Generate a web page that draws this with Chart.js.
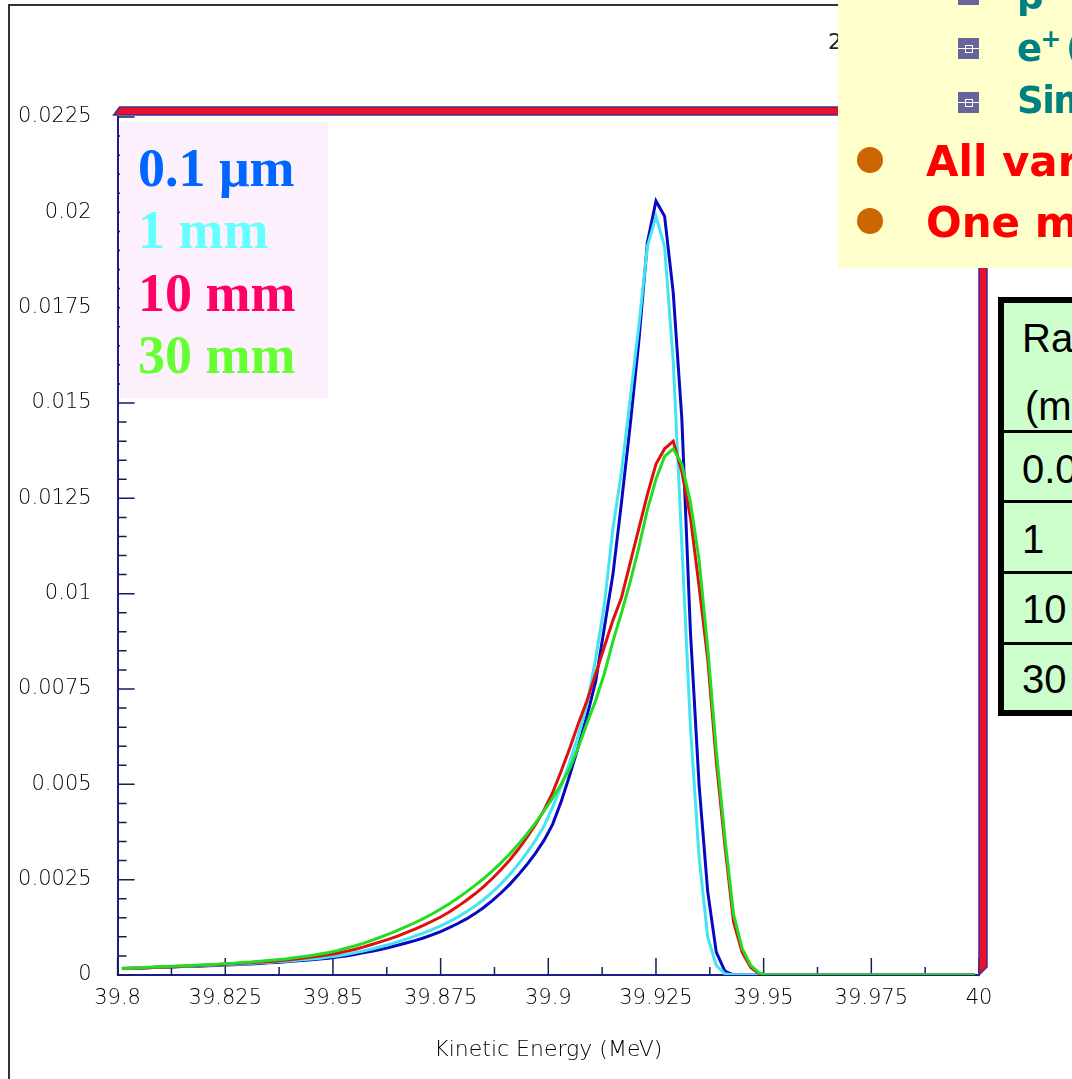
<!DOCTYPE html>
<html>
<head>
<meta charset="utf-8">
<title>Kinetic energy spectra</title>
<script src="https://cdn.jsdelivr.net/npm/chart.js@4.4.1/dist/chart.umd.min.js"></script>
<style>
    html, body { margin: 0; padding: 0; background: #fff; overflow: hidden; }
    #page { position: relative; width: 1072px; height: 1079px; overflow: hidden; }
    #spectrum { position: absolute; left: 0; top: 0; }
    .edge { position: absolute; background: #333; }
    #plotTitle { position: absolute; left: 828px; top: 31px; font: 22px 'DejaVu Sans', sans-serif; line-height: 1; color: #222; white-space: nowrap; }
    #sizeKey { position: absolute; left: 120px; top: 122px; width: 208px; height: 276px; background: #fdf0fd; }
    #sizeKey div { position: absolute; left: 18px; font: bold 54px 'Liberation Serif', serif; line-height: 62.6px; white-space: nowrap; }
    #slideNote { position: absolute; left: 838px; top: 0; width: 240px; height: 268px; background: #ffffcc; }
    #slideNote .t { position: absolute; white-space: nowrap; font-family: 'DejaVu Sans', sans-serif; font-weight: bold; line-height: 1; }
    #slideNote .teal { color: #008080; font-size: 37px; left: 179px; letter-spacing: -1.5px; }
    #slideNote .red { color: #ff0000; font-size: 42px; left: 88px; }
    .sq { position: absolute; left: 120px; width: 21px; height: 21px; background: #66669a; }
    .sq::before { content: ''; position: absolute; left: 0; top: 10px; width: 21px; height: 1px; background: #fff; }
    .sq::after { content: ''; position: absolute; left: 7px; top: 7px; width: 6px; height: 6px; border: 1px solid #fff; }
    .dot { position: absolute; left: 19px; width: 26px; height: 26px; border-radius: 50%; background: #cc6600; }
    #rangeTable { position: absolute; left: 998px; top: 297px; width: 200px; height: 407px; border: 6px solid #000; background: #ccffcc; }
    #rangeTable .row { position: absolute; left: 0; width: 200px; height: 3px; background: #000; }
    #rangeTable .cell { position: absolute; left: 18px; font: 40px 'Liberation Sans', sans-serif; line-height: 1; color: #000; white-space: nowrap; }
</style>
</head>
<body>
<div id="page">
    <canvas id="spectrum" width="1072" height="1079"></canvas>

    <div class="edge" style="left:8px; top:4px; width:1100px; height:2px;"></div>
    <div class="edge" style="left:8px; top:4px; width:2px; height:1100px;"></div>
    <div id="plotTitle">2</div>

    <div id="sizeKey">
        <div style="top:14.5px; color:#0066ff;">0.1 &mu;m</div>
        <div style="top:77.1px; color:#66ffff;">1 mm</div>
        <div style="top:139.7px; color:#ff0066;">10 mm</div>
        <div style="top:202.3px; color:#66ff33;">30 mm</div>
    </div>

    <div id="slideNote">
        <div class="sq" style="top:-16px;"></div>
        <div class="sq" style="top:38px;"></div>
        <div class="sq" style="top:92px;"></div>
        <div class="t teal" style="top:-23.5px;">&beta; &ndash; spread</div>
        <div class="t teal" style="top:30px;">e<span style="position:relative; top:-14px; font-size:25px;">+</span>&thinsp;(40 MeV)</div>
        <div class="t teal" style="top:82px;">Simulated</div>
        <div class="dot" style="top:147px;"></div>
        <div class="dot" style="top:208px;"></div>
        <div class="t red" style="top:140.5px;">All variables</div>
        <div class="t red" style="top:201.5px;">One million</div>
    </div>

    <div id="rangeTable">
        <div class="row" style="top:127px;"></div>
        <div class="row" style="top:197px;"></div>
        <div class="row" style="top:268px;"></div>
        <div class="row" style="top:339px;"></div>
        <div class="cell" style="top:15px;">Radius</div>
        <div class="cell" style="top:83px; left:21px;">(mm)</div>
        <div class="cell" style="top:146px;">0.0001</div>
        <div class="cell" style="top:216px;">1</div>
        <div class="cell" style="top:286px;">10</div>
        <div class="cell" style="top:356px;">30</div>
    </div>
</div>

<script>
    // histogram binning (MeV): first bin centre and width
    const energyStart = 39.801;
    const binWidth = 0.002;

    const xTicks = [39.8, 39.825, 39.85, 39.875, 39.9, 39.925, 39.95, 39.975, 40];
    const yTicks = [0, 0.0025, 0.005, 0.0075, 0.01, 0.0125, 0.015, 0.0175, 0.02, 0.0225];

    // bin contents, in units of 1e-3
    const size01um = [
        0.17, 0.18, 0.18, 0.19, 0.20, 0.20, 0.21, 0.22, 0.22, 0.23,
        0.24, 0.25, 0.26, 0.27, 0.28, 0.29, 0.30, 0.32, 0.33, 0.35,
        0.37, 0.38, 0.40, 0.42, 0.44, 0.47, 0.50, 0.54, 0.58, 0.62,
        0.67, 0.72, 0.78, 0.84, 0.90, 0.97, 1.05, 1.14, 1.24, 1.35,
        1.47, 1.61, 1.77, 1.95, 2.15, 2.37, 2.62, 2.89, 3.19, 3.53,
        3.95, 4.55, 5.25, 6.00, 6.80, 7.70, 9.10, 10.5, 12.4, 14.4,
        16.6, 19.2, 20.3, 19.9, 17.9, 14.6, 9.00, 5.00, 2.20, 0.60,
        0.10, 0, 0, 0, 0, 0, 0, 0, 0, 0,
        0, 0, 0, 0, 0, 0, 0, 0, 0, 0,
        0, 0, 0, 0, 0, 0, 0, 0, 0, 0
    ];
    const size1mm = [
        0.17, 0.17, 0.18, 0.19, 0.20, 0.21, 0.22, 0.22, 0.23, 0.24,
        0.25, 0.26, 0.27, 0.28, 0.29, 0.30, 0.32, 0.33, 0.35, 0.36,
        0.38, 0.40, 0.42, 0.44, 0.47, 0.50, 0.54, 0.58, 0.63, 0.68,
        0.74, 0.80, 0.87, 0.94, 1.02, 1.10, 1.19, 1.29, 1.40, 1.52,
        1.66, 1.81, 1.98, 2.17, 2.39, 2.63, 2.90, 3.20, 3.53, 3.90,
        4.40, 4.95, 5.60, 6.30, 7.10, 8.30, 9.70, 11.7, 13.2, 15.1,
        17.0, 19.1, 19.9, 19.1, 16.1, 11.3, 6.50, 3.10, 1.00, 0.25,
        0.03, 0, 0, 0, 0, 0, 0, 0, 0, 0,
        0, 0, 0, 0, 0, 0, 0, 0, 0, 0,
        0, 0, 0, 0, 0, 0, 0, 0, 0, 0
    ];
    const size10mm = [
        0.17, 0.18, 0.18, 0.19, 0.20, 0.21, 0.22, 0.23, 0.24, 0.25,
        0.26, 0.27, 0.28, 0.30, 0.31, 0.32, 0.34, 0.35, 0.37, 0.39,
        0.41, 0.44, 0.47, 0.50, 0.53, 0.57, 0.62, 0.67, 0.73, 0.80,
        0.87, 0.94, 1.02, 1.11, 1.20, 1.30, 1.41, 1.52, 1.65, 1.80,
        1.96, 2.13, 2.32, 2.53, 2.76, 3.01, 3.29, 3.60, 3.94, 4.32,
        4.78, 5.35, 5.95, 6.60, 7.20, 7.90, 8.60, 9.30, 9.90, 10.8,
        11.7, 12.6, 13.4, 13.8, 14.0, 13.2, 12.0, 10.2, 8.30, 5.60,
        3.40, 1.40, 0.60, 0.20, 0.03, 0, 0, 0, 0, 0,
        0, 0, 0, 0, 0, 0, 0, 0, 0, 0,
        0, 0, 0, 0, 0, 0, 0, 0, 0, 0
    ];
    const size30mm = [
        0.18, 0.18, 0.19, 0.20, 0.21, 0.22, 0.23, 0.24, 0.25, 0.26,
        0.27, 0.28, 0.30, 0.31, 0.33, 0.34, 0.36, 0.38, 0.40, 0.42,
        0.45, 0.48, 0.51, 0.55, 0.59, 0.64, 0.70, 0.76, 0.83, 0.91,
        0.99, 1.08, 1.17, 1.27, 1.37, 1.48, 1.60, 1.73, 1.87, 2.02,
        2.18, 2.35, 2.53, 2.73, 2.94, 3.17, 3.42, 3.69, 3.98, 4.30,
        4.64, 5.00, 5.42, 5.98, 6.60, 7.20, 7.90, 8.75, 9.50, 10.3,
        11.2, 12.2, 13.0, 13.6, 13.8, 13.4, 12.4, 10.9, 8.60, 5.90,
        3.60, 1.60, 0.70, 0.25, 0.05, 0, 0, 0, 0, 0,
        0, 0, 0, 0, 0, 0, 0, 0, 0, 0,
        0, 0, 0, 0, 0, 0, 0, 0, 0, 0
    ];

    const toPoints = function(values) {
        return values.map(function(v, i) {
            return {x: energyStart + i * binWidth, y: v / 1000};
        });
    }

    const tickFont = {family: 'DejaVu Sans', size: 21, weight: 200};

    // ROOT style inward ticks (major + minor) along both axes
    const rootTicks = {
        id: 'rootTicks',
        beforeDatasetsDraw: function(chart) {
            const ctx = chart.ctx, a = chart.chartArea;
            const x = chart.scales.x, y = chart.scales.y;
            ctx.save();
            ctx.strokeStyle = '#1a1a5a';
            ctx.lineWidth = 1.5;
            ctx.beginPath();
            for (let k = 0; k < xTicks.length; k++) {
                const px = x.getPixelForValue(xTicks[k]);
                ctx.moveTo(px, a.bottom); ctx.lineTo(px, a.bottom - 17);
                if (k < xTicks.length - 1) {
                    const mx = x.getPixelForValue((xTicks[k] + xTicks[k + 1]) / 2);
                    ctx.moveTo(mx, a.bottom); ctx.lineTo(mx, a.bottom - 8);
                }
            }
            for (let k = 0; k < yTicks.length; k++) {
                const py = y.getPixelForValue(yTicks[k]);
                ctx.moveTo(a.left, py); ctx.lineTo(a.left + 17, py);
                if (k < yTicks.length - 1) {
                    for (let m = 1; m < 5; m++) {
                        const my = y.getPixelForValue(yTicks[k] + (yTicks[k + 1] - yTicks[k]) * m / 5);
                        ctx.moveTo(a.left, my); ctx.lineTo(a.left + 9, my);
                    }
                }
            }
            ctx.stroke();
            ctx.restore();
        },
        afterDraw: function(chart) {
            // bevelled red frame on top and right side
            const ctx = chart.ctx, a = chart.chartArea;
            ctx.save();
            ctx.fillStyle = '#e8102c';
            ctx.strokeStyle = '#4a2a8a';
            ctx.lineWidth = 1.5;
            ctx.beginPath();
            ctx.moveTo(a.left - 4, a.top - 2);
            ctx.lineTo(a.left + 2, a.top - 10);
            ctx.lineTo(a.right + 8, a.top - 10);
            ctx.lineTo(a.right, a.top - 2);
            ctx.closePath();
            ctx.fill(); ctx.stroke();
            ctx.beginPath();
            ctx.moveTo(a.right, a.top - 2);
            ctx.lineTo(a.right + 8, a.top - 10);
            ctx.lineTo(a.right + 8, a.bottom - 8);
            ctx.lineTo(a.right, a.bottom);
            ctx.closePath();
            ctx.fill(); ctx.stroke();
            ctx.restore();
        }
    }

    const buildSpectrum = function() {
        new Chart(document.getElementById('spectrum'), {
            type: 'line',
            data: {
                datasets: [
                    {label: '30 mm', data: toPoints(size30mm), borderColor: '#22dd22', order: 0},
                    {label: '10 mm', data: toPoints(size10mm), borderColor: '#e01010', order: 1},
                    {label: '1 mm', data: toPoints(size1mm), borderColor: '#44e4f0', order: 2},
                    {label: '0.1 um', data: toPoints(size01um), borderColor: '#0808c0', order: 3}
                ]
            },
            options: {
                responsive: false,
                animation: false,
                events: [],
                layout: {padding: {left: 0, top: 117, right: 93, bottom: 0}},
                elements: {
                    point: {radius: 0},
                    line: {borderWidth: 3, tension: 0, fill: false}
                },
                plugins: {legend: {display: false}, tooltip: {enabled: false}},
                scales: {
                    x: {
                        type: 'linear',
                        min: 39.8,
                        max: 40,
                        afterBuildTicks: function(scale) {
                            scale.ticks = xTicks.map(function(v) { return {value: v}; });
                        },
                        afterFit: function(scale) { scale.height = 104; },
                        grid: {display: false, drawTicks: false},
                        border: {display: true, color: '#1c1c8c', width: 2},
                        ticks: {
                            padding: 11,
                            autoSkip: false,
                            maxRotation: 0,
                            color: '#000',
                            font: tickFont,
                            callback: function(v) { return String(+v.toFixed(3)); }
                        },
                        title: {
                            display: true,
                            text: 'Kinetic Energy (MeV)',
                            color: '#000',
                            font: {family: 'DejaVu Sans', size: 22, weight: 200},
                            padding: {top: 0, bottom: 16}
                        }
                    },
                    y: {
                        min: 0,
                        max: 0.0225,
                        afterBuildTicks: function(scale) {
                            scale.ticks = yTicks.map(function(v) { return {value: v}; });
                        },
                        afterFit: function(scale) { scale.width = 117.6; },
                        grid: {display: false, drawTicks: false},
                        border: {display: true, color: '#1c1c8c', width: 2},
                        ticks: {
                            padding: 26,
                            color: '#000',
                            font: tickFont,
                            callback: function(v) { return String(+v.toFixed(4)); }
                        }
                    }
                }
            },
            plugins: [rootTicks]
        });
    }

    buildSpectrum();
</script>
</body>
</html>
